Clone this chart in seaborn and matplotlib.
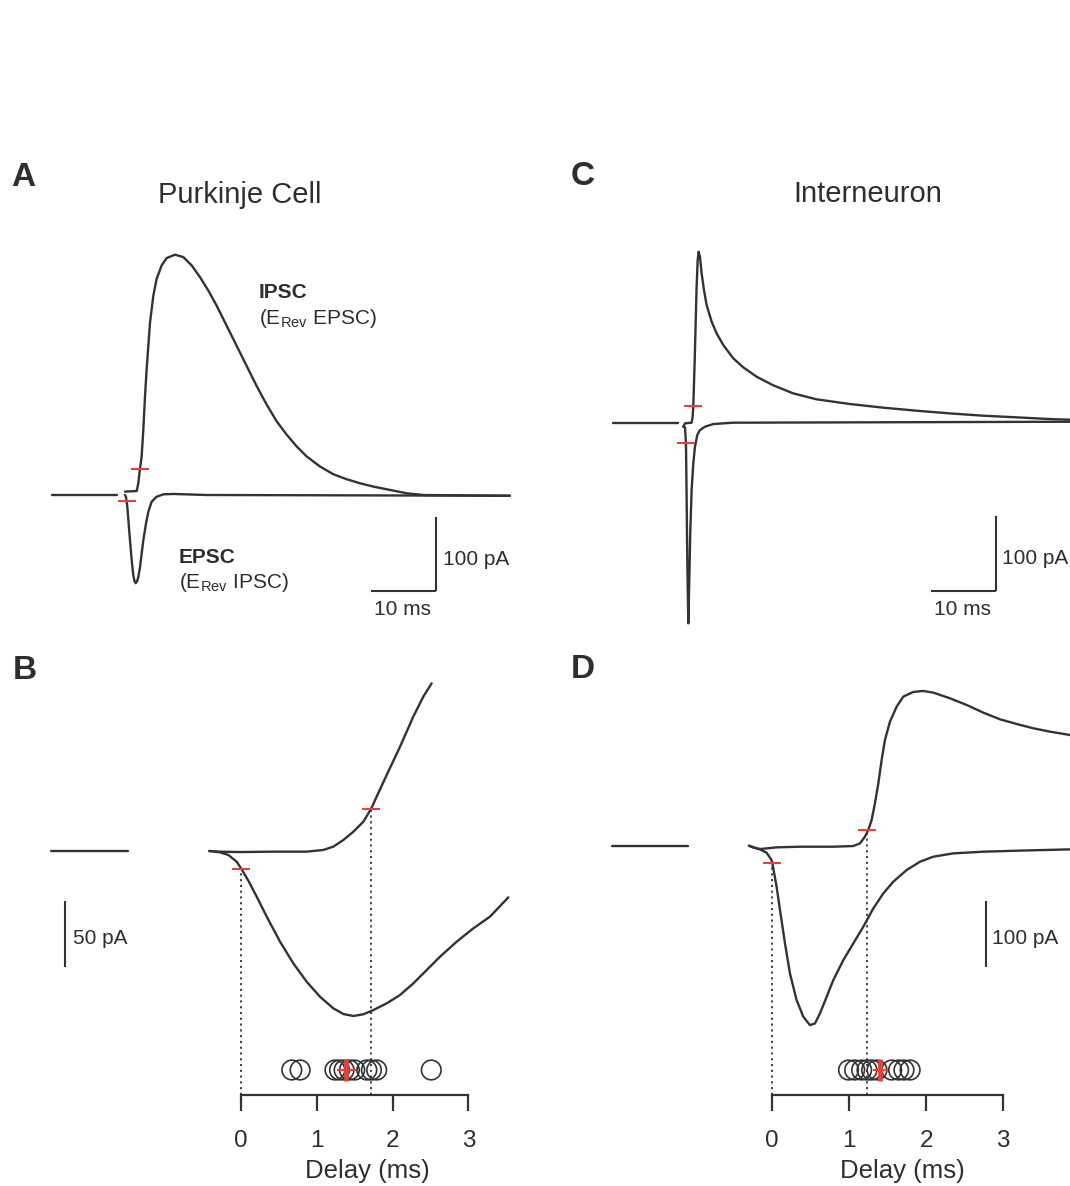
import numpy as np
import pandas as pd
import matplotlib
matplotlib.use("Agg")
import matplotlib.pyplot as plt
import seaborn as sns

# ---------------- data (time in ms, current in pA) ----------------
# Panel A : Purkinje cell
A_pre_t = [-11.3, -1.3]
A_pre_i = [0.0, 0.0]
A_ipsc_t = [0.0, 1.8, 2.05, 2.31, 2.56, 2.82, 3.08, 3.33, 3.59, 3.85, 4.36, 4.87, 5.64,
            6.41, 7.69, 8.97, 10.26, 11.54, 12.82, 14.1, 15.64, 17.18, 18.72, 20.26,
            21.79, 23.33, 24.87, 26.41, 27.95, 30.0, 32.05, 34.1, 36.15, 38.2, 40.77,
            43.33, 45.9, 59.2]
A_ipsc_i = [4.5, 5.4, 15.8, 35.6, 51.8, 87.8, 132.9, 168.9, 200.5, 232, 268, 290.5, 308.6,
            318.5, 323, 319.8, 308.6, 292.8, 274.8, 254.5, 227.5, 200.5, 173.4, 146.4,
            121.6, 99.1, 81.1, 65.3, 51.8, 38.3, 27.9, 21.2, 15.8, 11.3, 6.8,
            2.3, 0.0, -1.0]
A_epsc_t = [0.0, 0.15, 0.36, 0.56, 0.77, 1.03, 1.28, 1.45, 1.64, 1.85, 2.05, 2.31, 2.56,
            2.82, 3.23, 3.59, 4.1, 4.87, 5.9, 7.44, 12.56, 59.2]
A_epsc_i = [0.0, -2.3, -15.8, -38.3, -60.8, -87.8, -108.1, -115.5, -118.5, -116.0, -110.4,
            -96.8, -78.8, -60.8, -38.3, -22.5, -9.0, -2.3, 0.9, 1.4, 0.0, -1.0]
A_marks_t = [2.3, 0.3]
A_marks_i = [35.0, -8.0]

# Panel C : Interneuron
C_pre_t = [-10.87, -0.77]
C_pre_i = [0.0, 0.0]
C_ipsc_t = [0.0, 0.26, 1.28, 1.44, 1.54, 1.74, 1.90, 2.05, 2.21, 2.36, 2.56, 2.82, 3.18,
            3.59, 4.36, 5.13, 6.15, 7.69, 9.23, 11.28, 13.85, 16.92, 20.51, 25.64, 30.77,
            35.9, 41.03, 46.15, 51.28, 56.41, 59.49]
C_ipsc_i = [-5.4, -0.9, 0.0, 8.1, 23.0, 79.7, 133.5, 182.8, 218.6, 229.8, 223.1, 200.7,
            178.3, 158.2, 135.8, 120.1, 104.4, 86.5, 74.4, 61.8, 50.2, 39.4, 31.4, 25.1,
            20.2, 16.1, 12.5, 9.4, 7.2, 4.9, 4.0]
C_epsc_t = [0.0, 0.26, 0.41, 0.51, 0.62, 0.77, 0.92, 1.08, 1.28, 1.54, 1.79, 2.15, 2.56,
            3.33, 4.62, 7.69, 59.49]
C_epsc_i = [-5.4, -6.3, -27.8, -99.5, -189.1, -269.7, -211.5, -144.3, -90.5, -54.7,
            -32.3, -16.6, -9.9, -5.4, -1.8, 0.0, 1.3]
C_marks_t = [1.55, 0.38]
C_marks_i = [23.0, -27.0]

# Panel B : Purkinje cell, expanded
B_pre_t = [-2.50, -1.49]
B_pre_i = [0.0, 0.0]
B_ipsc_t = [-0.418, -0.277, -0.013, 0.427, 0.866, 1.086, 1.218, 1.350, 1.482, 1.614,
            1.715, 1.790, 1.922, 2.098, 2.273, 2.405, 2.515]
B_ipsc_i = [0.0, -0.5, -0.8, -0.5, -0.5, 0.8, 3.3, 8.3, 14.6, 22.2, 31.8, 41.2, 57.6,
            79.0, 101.8, 116.9, 127.0]
B_epsc_t = [-0.418, -0.277, -0.167, -0.057, 0.009, 0.097, 0.207, 0.339, 0.515, 0.690,
            0.866, 1.042, 1.218, 1.350, 1.482, 1.614, 1.746, 1.922, 2.098, 2.273, 2.449,
            2.625, 2.845, 3.065, 3.285, 3.527]
B_epsc_i = [0.0, -1.0, -3.0, -8.1, -13.9, -22.5, -34.6, -49.7, -68.7, -85.1, -99.0,
            -110.4, -119.2, -123.5, -125.0, -123.7, -120.5, -115.4, -109.1, -100.3, -90.2,
            -80.1, -68.7, -58.6, -49.7, -35.1]
B_marks_t = [1.715, 0.0]
B_marks_i = [31.8, -13.9]
B_delays = [0.67, 0.78, 1.24, 1.30, 1.36, 1.43, 1.50, 1.66, 1.72, 1.79, 2.51]
B_mean, B_sem = 1.39, 0.13

# Panel D : Interneuron, expanded
D_pre_t = [-2.086, -1.091]
D_pre_i = [0.0, 0.0]
D_ipsc_t = [-0.303, -0.247, -0.160, -0.074, 0.056, 0.359, 0.792, 1.052, 1.139, 1.203,
            1.247, 1.290, 1.333, 1.377, 1.420, 1.463, 1.528, 1.615, 1.701, 1.831, 1.961,
            2.091, 2.307, 2.524, 2.740, 2.957, 3.173, 3.390, 3.606, 3.866]
D_ipsc_i = [0.0, -2.5, -5.0, -4.0, -2.5, -1.5, -1.5, -0.5, 3.5, 13.5, 23.5, 38.5, 63.5,
            93.5, 128.5, 158.5, 186.0, 208.5, 223.5, 230.5, 232.0, 229.5, 221.0, 211.0,
            199.5, 189.5, 182.5, 176.0, 171.0, 166.0]
D_epsc_t = [-0.303, -0.247, -0.160, -0.074, -0.009, 0.013, 0.056, 0.100, 0.165, 0.229,
            0.316, 0.403, 0.489, 0.554, 0.619, 0.706, 0.792, 0.922, 1.052, 1.182, 1.312,
            1.442, 1.571, 1.745, 1.918, 2.091, 2.351, 2.740, 3.173, 3.866]
D_epsc_i = [0.0, -2.5, -5.5, -10.5, -21.5, -34.0, -61.5, -96.5, -146.5, -191.5, -231.5,
            -256.5, -269.0, -266.5, -251.5, -226.5, -201.5, -171.5, -146.5, -121.5, -94.0,
            -71.5, -54.0, -36.5, -24.0, -16.5, -11.5, -9.0, -7.5, -5.5]
D_marks_t = [1.225, 0.0]
D_marks_i = [23.5, -26.5]
D_delays = [0.99, 1.07, 1.16, 1.23, 1.29, 1.36, 1.55, 1.64, 1.71, 1.79]
D_mean, D_sem = 1.40, 0.087

delay_ticks = [0, 1, 2, 3]
titles = ["Purkinje Cell", "Interneuron"]

# ---------------- style ----------------
sns.set_theme(style="ticks")
plt.rcParams["font.family"] = ["Liberation Sans", "DejaVu Sans"]
plt.rcParams["mathtext.fontset"] = "custom"
plt.rcParams["mathtext.rm"] = "Liberation Sans"
plt.rcParams["mathtext.it"] = "Liberation Sans:italic"
plt.rcParams["mathtext.bf"] = "Liberation Sans:bold"

TRACE = "#333333"
TEXT = "#2e2e2e"
RED = "#e3413b"
LW = 1.7

W, H = 1070, 1186
fig = plt.figure(figsize=(W / 100, H / 100), dpi=100)
fig.patch.set_facecolor("white")


def frame(box, origin, sx, sy):
    x0, y0, x1, y1 = box
    X0, Y0 = origin
    ax = fig.add_axes([x0 / W, 1 - y1 / H, (x1 - x0) / W, (y1 - y0) / H])
    ax.set_xlim((x0 - X0) / sx, (x1 - X0) / sx)
    ax.set_ylim((Y0 - y1) / sy, (Y0 - y0) / sy)
    ax.patch.set_alpha(0)
    return ax


def trace(ax, t, i):
    sns.lineplot(x=t, y=i, ax=ax, color=TRACE, linewidth=LW, sort=False,
                 estimator=None, legend=False)


def marks(ax, t, i):
    sns.scatterplot(x=t, y=i, ax=ax, marker="_", s=13.5 ** 2, color=RED,
                    linewidth=1.5, zorder=5, legend=False)


def scalebar(ax, x, y, dx, dy, lbl_v, lbl_v_pos, lbl_h=None, lbl_h_pos=None):
    if dx:
        ax.plot([x - dx, x], [y, y], color=TRACE, lw=1.5, solid_capstyle="butt")
    ax.plot([x, x], [y, y + dy], color=TRACE, lw=1.5, solid_capstyle="butt")
    ax.text(*lbl_v_pos, lbl_v, fontsize=15, color=TEXT, ha="left", va="baseline")
    if lbl_h:
        ax.text(*lbl_h_pos, lbl_h, fontsize=15, color=TEXT, ha="center", va="baseline")


# ---------------- Panel A ----------------
axA = frame((40, 230, 520, 630), (125, 495), 6.5, 0.744)
axA.axis("off")
trace(axA, A_pre_t, A_pre_i)
trace(axA, A_ipsc_t, A_ipsc_i)
trace(axA, A_epsc_t, A_epsc_i)
marks(axA, A_marks_t, A_marks_i)
scalebar(axA, 47.85, -129, 10, 100, "100 pA", (48.9, -94.1), "10 ms", (42.7, -161.3))
axA.text(20.6, 264.4, "IPSC", fontsize=15, fontweight="bold", color=TEXT, va="baseline")
axA.text(20.6, 229.8, r"(E$_{\mathrm{Rev}}$ EPSC)", fontsize=15, color=TEXT, va="baseline")
axA.text(8.3, -91.8, "EPSC", fontsize=15, fontweight="bold", color=TEXT, va="baseline")
axA.text(8.3, -125.4, r"(E$_{\mathrm{Rev}}$ IPSC)", fontsize=15, color=TEXT, va="baseline")

# ---------------- Panel C ----------------
axC = frame((600, 230, 1070, 630), (683.3, 422.7), 6.5, 0.744)
axC.axis("off")
trace(axC, C_pre_t, C_pre_i)
trace(axC, C_ipsc_t, C_ipsc_i)
trace(axC, C_epsc_t, C_epsc_i)
marks(axC, C_marks_t, C_marks_i)
scalebar(axC, 48.06, -225.8, 10, 100, "100 pA", (48.98, -190.3), "10 ms", (42.88, -258.5))


# ---------------- Panels B and D ----------------
def delay_panel(ax, pre, ipsc, epsc, mk_t, mk_i, delays, mean, sem, sy, xlabel_x):
    trace(ax, *pre)
    trace(ax, *ipsc)
    trace(ax, *epsc)
    y_bot = ax.get_ylim()[0]
    ax.vlines(mk_t, y_bot, mk_i, colors=TRACE, linestyles=(0, (1.2, 2.0)), lw=1.3)
    marks(ax, mk_t, mk_i)
    row = y_bot + 25 / sy
    sns.scatterplot(x=delays, y=[row] * len(delays), ax=ax, s=200, marker="o",
                    facecolor="none", edgecolor=TRACE, linewidth=1.2, zorder=4,
                    legend=False)
    ax.errorbar([mean], [row], xerr=[sem], fmt="none", ecolor=RED, elinewidth=1.6,
                capsize=0, zorder=6)
    ax.plot([mean], [row], marker="|", ms=16, mew=3.4, color=RED, zorder=7)

    for sp in ["left", "right", "top"]:
        ax.spines[sp].set_visible(False)
    ax.spines["bottom"].set_bounds(delay_ticks[0], delay_ticks[-1])
    ax.spines["bottom"].set_linewidth(1.6)
    ax.spines["bottom"].set_color(TRACE)
    ax.set_yticks([])
    ax.set_xticks(delay_ticks)
    ax.set_xticklabels([str(v) for v in delay_ticks])
    ax.tick_params(axis="x", direction="out", length=11.5, width=1.6, color=TRACE,
                   labelsize=17.5, labelcolor=TEXT, pad=14, bottom=True)
    ax.set_xlabel("")
    ax.set_ylabel("")
    ax.text(xlabel_x, -0.1908, "Delay (ms)", transform=ax.transAxes, fontsize=18.5,
            color=TEXT, ha="center", va="baseline")


axB = frame((40, 660, 520, 1095), (241, 851), 75.8, 1.32)
delay_panel(axB, (B_pre_t, B_pre_i), (B_ipsc_t, B_ipsc_i), (B_epsc_t, B_epsc_i),
            B_marks_t, B_marks_i, B_delays, B_mean, B_sem, 1.32, 0.682)
scalebar(axB, -2.322, -87.7, 0, 50, "50 pA", (-2.22, -70.5))

axD = frame((600, 660, 1070, 1095), (772.3, 845.7), 77.0, 0.667)
delay_panel(axD, (D_pre_t, D_pre_i), (D_ipsc_t, D_ipsc_i), (D_epsc_t, D_epsc_i),
            D_marks_t, D_marks_i, D_delays, D_mean, D_sem, 0.667, 0.6436)
scalebar(axD, 2.771, -182.5, 0, 100, "100 pA", (2.849, -147.4))

# ---------------- titles & panel letters ----------------
fig.text(240 / W, 1 - 203.3 / H, titles[0], fontsize=21, color=TEXT, ha="center",
         va="baseline")
fig.text(868 / W, 1 - 202.3 / H, titles[1], fontsize=21, color=TEXT, ha="center",
         va="baseline")
for letter, x, y in [("A", 11, 186), ("C", 571, 185), ("B", 13, 679), ("D", 571, 678)]:
    fig.text(x / W, 1 - y / H, letter, fontsize=24, fontweight="bold", color=TEXT,
             ha="left", va="baseline")

fig.savefig("out.png", dpi=100, facecolor="white")
